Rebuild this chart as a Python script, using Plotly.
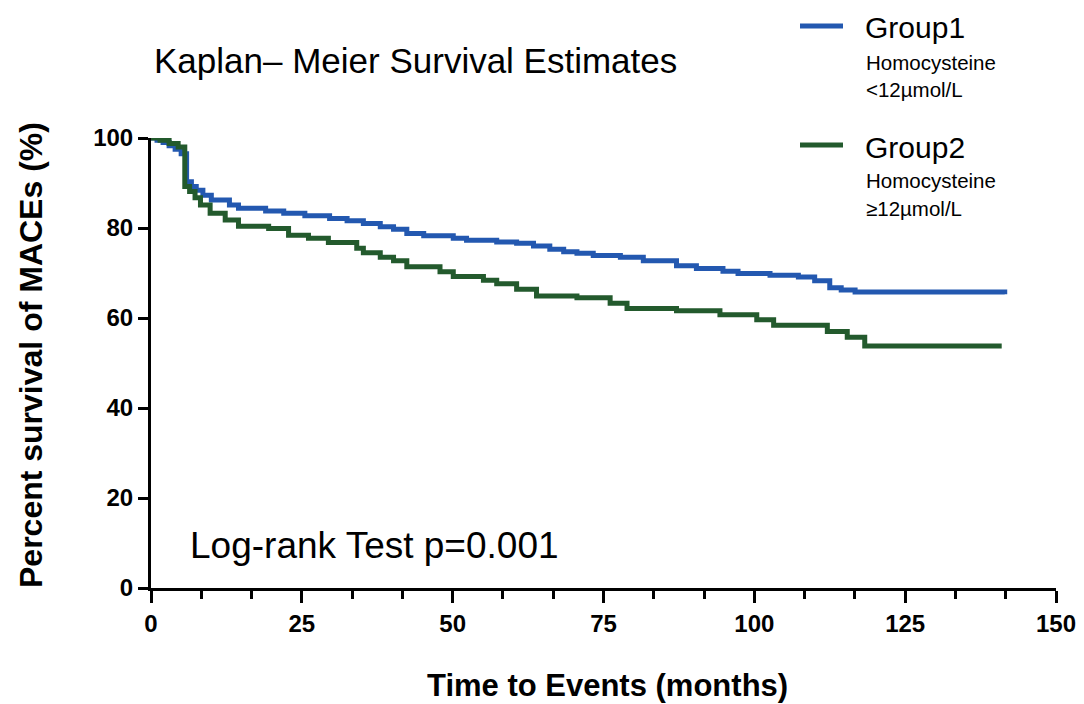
import plotly.graph_objects as go

# ---- data ----
group1_time = [0, 1, 2, 3, 4, 5, 5.9, 6.7, 7.5, 8.6, 10, 13, 14.5, 19, 22, 25.5,
               29.6, 32.5, 35.2, 38, 40.2, 42.4, 45.2, 50.1, 52.3, 57.3, 60.6, 63.4,
               66.1, 68.4, 70.6, 73.3, 77.8, 81.6, 87.1, 90.4, 94.8, 97.3, 102.6,
               107.3, 110, 112.5, 114.4, 116.7, 141.5]
group1_surv = [100, 99.5, 99, 98.3, 97.5, 96.5, 90.3, 89.2, 88.4, 87.3, 86.2, 85.1,
               84.4, 83.8, 83.3, 82.7, 82.1, 81.6, 81.0, 80.3, 79.7, 78.8, 78.3, 77.7,
               77.3, 76.9, 76.6, 76.0, 75.3, 74.7, 74.4, 73.9, 73.5, 72.7, 71.6, 71.0,
               70.4, 69.9, 69.5, 69.1, 68.3, 66.7, 66.2, 65.8, 65.3]

group2_time = [0, 1.5, 3, 4.5, 5.6, 6.4, 7.3, 8.2, 9.8, 12.3, 14.5, 19.5, 22.8, 26.1,
               29.4, 34.1, 35.2, 38, 40.2, 42.4, 47.9, 50.1, 55.1, 57.3, 60.6, 63.9,
               70.6, 76.1, 78.9, 87.1, 94.3, 100.4, 103.2, 112.1, 115.4, 118.3, 141]
group2_surv = [100, 99.5, 98.8, 98, 89.2, 88.1, 86.7, 85.1, 83.3, 81.8, 80.4, 79.9,
               78.4, 77.7, 76.8, 75.5, 74.5, 73.5, 72.7, 71.4, 70.3, 69.2, 68.4, 67.6,
               66.4, 64.9, 64.5, 63.3, 62.1, 61.6, 60.7, 59.6, 58.4, 57.0, 55.7, 53.8, 53.8]

x_ticks = [0, 25, 50, 75, 100, 125, 150]
y_ticks = [0, 20, 40, 60, 80, 100]

BLUE = "#2358b0"
GREEN = "#235a2d"
FONT = "Liberation Sans, Arial, sans-serif"

# page geometry: the page body has an 8px margin, so the figure starts at (8, 8)
OFF = 8
L, R, T, B = 151, 1056, 138, 588   # plot area in page pixels
W, H = 1076, 696                    # figure size


def px(xp):
    return (xp - L) / (R - L)


def py(yp):
    return (B - yp) / (B - T)


fig = go.Figure()
fig.add_trace(go.Scatter(x=group1_time, y=group1_surv, mode="lines",
                         line=dict(color=BLUE, width=5, shape="hv"),
                         name="Group1", showlegend=False))
fig.add_trace(go.Scatter(x=group2_time, y=group2_surv, mode="lines",
                         line=dict(color=GREEN, width=5, shape="hv"),
                         name="Group2", showlegend=False))

fig.update_layout(
    width=W, height=H,
    margin=dict(l=L - OFF, r=W - (R - OFF), t=T - OFF, b=H - (B - OFF)),
    paper_bgcolor="white", plot_bgcolor="white",
    font=dict(family=FONT, color="black"),
    title=dict(text="Kaplan\u2013 Meier Survival Estimates",
               x=px(154), xref="paper", xanchor="left",
               y=1 - (61 - OFF) / H, yanchor="middle",
               font=dict(size=35, family=FONT, color="black")),
)

fig.update_xaxes(range=[0, 150], tickvals=x_ticks, ticktext=[str(v) for v in x_ticks],
                 showline=True, linecolor="black", linewidth=3,
                 ticks="outside", ticklen=12, tickwidth=3, tickcolor="black",
                 tickfont=dict(size=24, family=FONT, weight="bold"),
                 ticklabeloverflow="allow", automargin=False,
                 minor=dict(dtick=25 / 3, tick0=0, ticks="outside", ticklen=8,
                            tickwidth=3, tickcolor="black"),
                 showgrid=False, zeroline=False)

fig.update_yaxes(range=[0, 100], tickvals=y_ticks,
                 showline=True, linecolor="black", linewidth=3,
                 ticks="outside", ticklen=10, tickwidth=3, tickcolor="black",
                 tickfont=dict(size=24, family=FONT, weight="bold"),
                 ticklabeloverflow="allow", automargin=False,
                 showgrid=False, zeroline=False)

# axis titles
fig.add_annotation(xref="paper", yref="paper", x=px(607), y=py(685),
                   xanchor="center", yanchor="middle", showarrow=False,
                   text="<b>Time to Events (months)</b>",
                   font=dict(size=31, family=FONT, color="black"))
fig.add_annotation(xref="paper", yref="paper", x=px(31), y=py(355),
                   xanchor="center", yanchor="middle", showarrow=False, textangle=-90,
                   text="<b>Percent survival of MACEs (%)</b>",
                   font=dict(size=32, family=FONT, color="black"))

# legend drawn manually
legend_items = [
    ("Group1", "Homocysteine", "<12\u00b5mol/L", BLUE, 26),
    ("Group2", "Homocysteine", "\u226512\u00b5mol/L", GREEN, 145),
]
for name, sub1, sub2, color, ycen in legend_items:
    fig.add_shape(type="line", xref="paper", yref="paper",
                  x0=px(800), x1=px(843), y0=py(ycen), y1=py(ycen),
                  line=dict(color=color, width=5))
    fig.add_annotation(xref="paper", yref="paper", x=px(863), y=py(ycen + 2),
                       xanchor="left", yanchor="middle", showarrow=False,
                       text=name, font=dict(size=30, family=FONT, color="black"))
    fig.add_annotation(xref="paper", yref="paper", x=px(864), y=py(ycen + 36),
                       xanchor="left", yanchor="middle", showarrow=False,
                       text=sub1, font=dict(size=20.5, family=FONT, color="black"))
    fig.add_annotation(xref="paper", yref="paper", x=px(864), y=py(ycen + 63),
                       xanchor="left", yanchor="middle", showarrow=False,
                       text=sub2, font=dict(size=20.5, family=FONT, color="black"))

fig.add_annotation(xref="paper", yref="paper", x=px(188), y=py(545),
                   xanchor="left", yanchor="middle", showarrow=False,
                   text="Log-rank Test p=0.001",
                   font=dict(size=37, family=FONT, color="black"))

fig.write_html("out.html")
